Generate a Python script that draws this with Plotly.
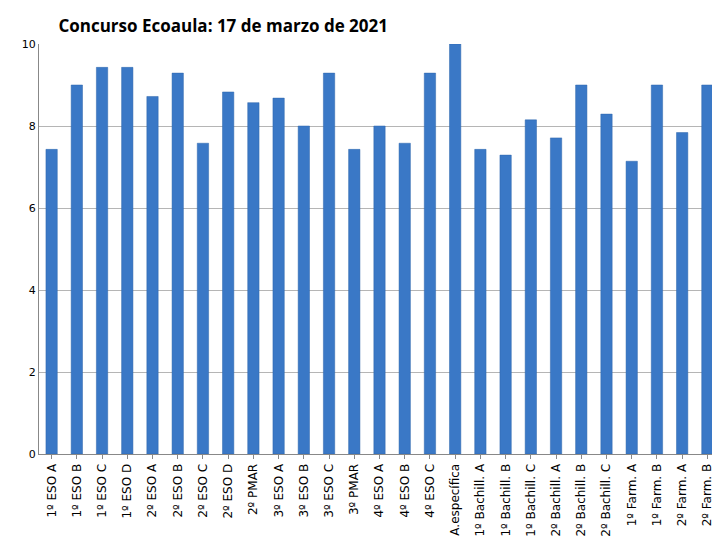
import plotly.graph_objects as go

grupos = ['1º ESO A', '1º ESO B', '1º ESO C', '1º ESO D', '2º ESO A', '2º ESO B', '2º ESO C',
          '2º ESO D', '2º PMAR', '3º ESO A', '3º ESO B', '3º ESO C', '3º PMAR', '4º ESO A',
          '4º ESO B', '4º ESO C', 'A.específica', '1º Bachill. A', '1º Bachill. B',
          '1º Bachill. C', '2º Bachill. A', '2º Bachill. B', '2º Bachill. C', '1º Farm. A',
          '1º Farm. B', '2º Farm. A', '2º Farm. B']
notas = [7.43, 9.0, 9.43, 9.43, 8.72, 9.29, 7.58, 8.83, 8.57, 8.68, 8.0, 9.29, 7.43, 8.0,
         7.58, 9.29, 10.0, 7.43, 7.29, 8.15, 7.71, 9.0, 8.29, 7.14, 9.0, 7.84, 9.0]

fig = go.Figure(go.Bar(x=grupos, y=notas, width=0.45,
                       marker=dict(color='#3a78c6', line=dict(color='#2f66ad', width=0.5))))

fig.update_layout(
    width=720, height=540, plot_bgcolor='white', paper_bgcolor='white',
    margin=dict(l=31, r=8, t=36, b=94, autoexpand=False),
    font=dict(family='DejaVu Sans', size=12, color='black'),
    title=dict(text='<b>Concurso Ecoaula: 17 de marzo de 2021</b>', x=0.07, xanchor='left',
               y=0.967, yanchor='middle', font=dict(family='Open Sans', size=17)),
    showlegend=False, bargap=0.55,
)
fig.update_xaxes(tickangle=-90, showline=True, linecolor='#888', ticks='outside',
                 tickcolor='#888', ticklen=4, tickfont=dict(size=12), automargin=False)
fig.update_yaxes(range=[0, 10], dtick=2, showgrid=True, gridcolor='#b5b5b5', automargin=False,
                 showline=True, linecolor='#888', tickfont=dict(size=11), zeroline=False)

fig.write_html('out.html')
